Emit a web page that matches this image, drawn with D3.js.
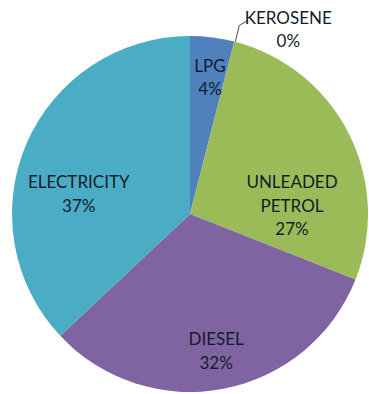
<!DOCTYPE html>
<html>
<head>
<meta charset="utf-8">
<script src="https://cdn.jsdelivr.net/npm/d3@7"></script>
<style>
  html, body { margin: 0; padding: 0; background: #fff; }
  svg { display: block; }
  text { font-family: Lato, "Liberation Sans", sans-serif; fill: #141c2a; }
</style>
</head>
<body>
<svg id="chart" width="369" height="394"></svg>
<script>
// Fuel share by type (percent)
const categories = ["LPG", "KEROSENE", "UNLEADED PETROL", "DIESEL", "ELECTRICITY"];
const shares = [4, 0, 27, 32, 37];
const shareLabels = ["4%", "0%", "27%", "32%", "37%"];
const colors = ["#4f81bd", "#c0504d", "#9bbb59", "#8064a2", "#4bacc6"];

const width = 369, height = 394;
const cx = 190, cy = 214, r = 178;

const svg = d3.select("#chart");
const g = svg.append("g").attr("transform", `translate(${cx},${cy})`);

const data = categories.map((c, i) => ({ name: c, value: shares[i], label: shareLabels[i], color: colors[i] }));

const pie = d3.pie().sort(null).value(d => d.value);
const arc = d3.arc().innerRadius(0).outerRadius(r);
const arcs = pie(data);

g.selectAll("path.slice")
  .data(arcs.filter(a => a.data.value > 0))
  .join("path")
  .attr("class", "slice")
  .attr("d", arc)
  .attr("fill", d => d.data.color);

// Label anchor inside each slice: angular fraction and radius fraction
const labelPos = {
  "LPG": { f: 0.58, rf: 0.775 },
  "UNLEADED PETROL": { f: 0.73, rf: 0.575 },
  "DIESEL": { f: 0.50, rf: 0.785 },
  "ELECTRICITY": { f: 0.40, rf: 0.635 }
};
const labelLines = {
  "LPG": ["LPG"],
  "KEROSENE": ["KEROSENE"],
  "UNLEADED PETROL": ["UNLEADED", "PETROL"],
  "DIESEL": ["DIESEL"],
  "ELECTRICITY": ["ELECTRICITY"]
};
const lineH = 23.5;
const fontSize = 17;

function polar(angle, radius) {
  return [radius * Math.sin(angle), -radius * Math.cos(angle)];
}

arcs.forEach(a => {
  const name = a.data.name;
  const lines = labelLines[name].concat([a.data.label]);
  let x, y;
  if (name === "KEROSENE") {
    // zero-width slice: label sits outside the pie with a leader line
    const [ex, ey] = polar(a.startAngle, r);
    x = ex + 54; y = ey - 12;
    g.append("path")
      .attr("d", `M${ex + 1},${ey} L${ex + 5},${ey - 16} L${ex + 13},${ey - 21}`)
      .attr("fill", "none")
      .attr("stroke", "#4a4a4a")
      .attr("stroke-width", 1);
  } else {
    const p = labelPos[name];
    const ang = a.startAngle + p.f * (a.endAngle - a.startAngle);
    [x, y] = polar(ang, r * p.rf);
  }
  const t = g.append("text")
    .attr("text-anchor", "middle")
    .attr("font-size", fontSize)
    .attr("x", x)
    .attr("y", y - (lines.length - 1) * lineH / 2);
  lines.forEach((ln, i) => {
    t.append("tspan")
      .attr("x", x)
      .attr("dy", i === 0 ? "0.35em" : lineH)
      .text(ln);
  });
});
</script>
</body>
</html>
